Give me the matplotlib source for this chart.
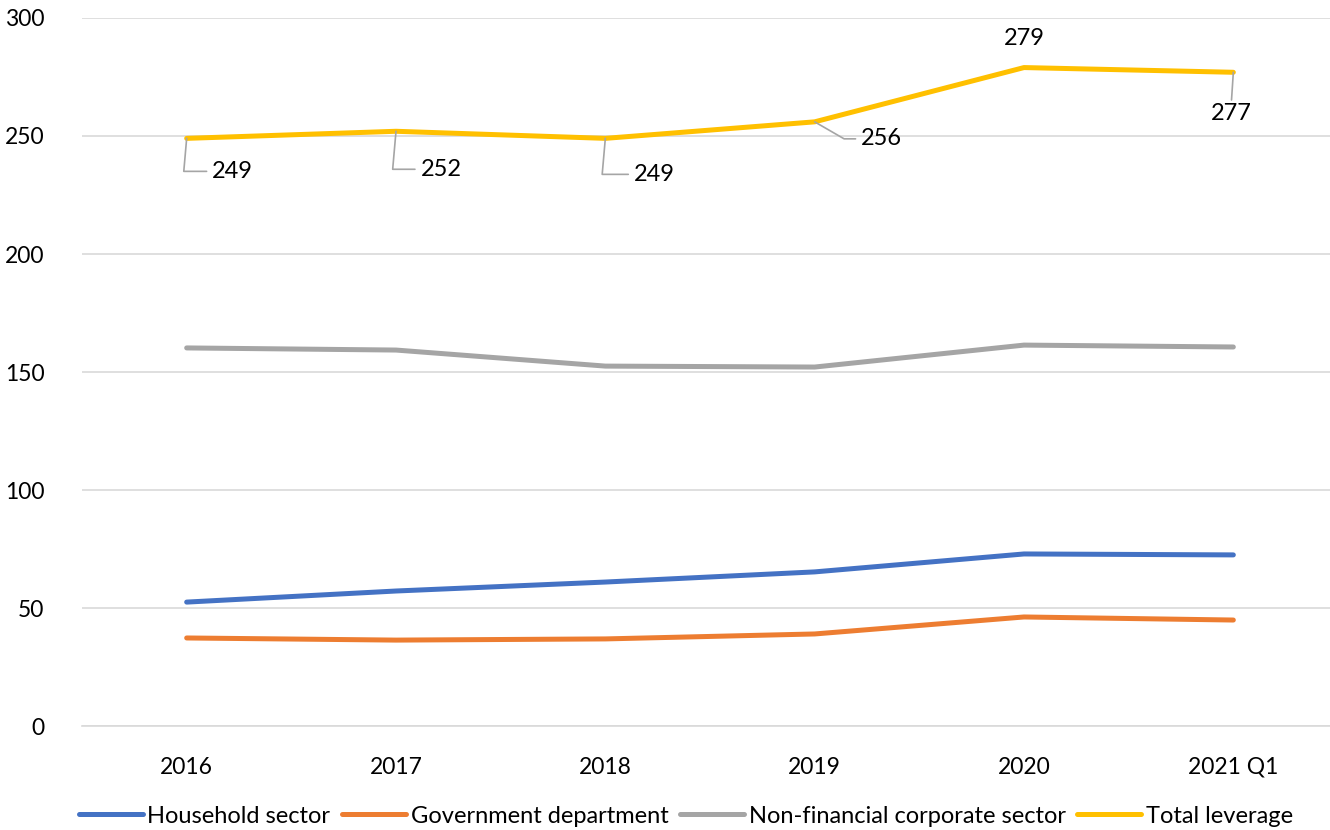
import matplotlib
matplotlib.use("Agg")
import matplotlib.pyplot as plt

plt.rcParams['font.family'] = ['Lato', 'DejaVu Sans']

years = ["2016", "2017", "2018", "2019", "2020", "2021 Q1"]
household = [52.5, 57.2, 61.0, 65.3, 72.9, 72.5]
government = [37.3, 36.4, 36.9, 39.0, 46.2, 44.9]
non_financial = [160.2, 159.3, 152.5, 152.1, 161.4, 160.6]
total = [249, 252, 249, 256, 279, 277]

fig = plt.figure(figsize=(13.3, 8.3), dpi=100)
ax = fig.add_axes([82 / 1330, 1 - 726 / 830, 1256 / 1330, 708 / 830])

x = range(len(years))
ax.plot(x, household, color="#4472C4", lw=3.6, solid_capstyle="round", label="Household sector")
ax.plot(x, government, color="#ED7D31", lw=3.6, solid_capstyle="round", label="Government department")
ax.plot(x, non_financial, color="#A5A5A5", lw=3.6, solid_capstyle="round", label="Non-financial corporate sector")
ax.plot(x, total, color="#FFC000", lw=3.6, solid_capstyle="round", label="Total leverage")

# data labels on total leverage, offsets in pixels with leader lines
offsets = [(46, -33), (45, -38), (49, -36), (67, -17), (0, 29), (-2, -41)]
for i, (v, (dx, dy)) in enumerate(zip(total, offsets)):
    off = (dx * 0.72, dy * 0.72)
    if i == 4:
        ax.annotate(f"{v:.0f}", (i, v), xytext=off, textcoords="offset points",
                    ha="center", va="center", fontsize=17)
    elif i == 5:
        ax.annotate(f"{v:.0f}", (i, v), xytext=off, textcoords="offset points",
                    ha="center", va="center", fontsize=17,
                    arrowprops=dict(arrowstyle="-", color="#A5A5A5", lw=1.2,
                                    shrinkA=0, shrinkB=0, relpos=(0.5, 1)))
    else:
        angle_b = -30 if i == 3 else 85
        ax.annotate(f"{v:.0f}", (i, v), xytext=off, textcoords="offset points",
                    ha="center", va="center", fontsize=17,
                    arrowprops=dict(arrowstyle="-", color="#A5A5A5", lw=1.2,
                                    shrinkA=2, shrinkB=0, relpos=(0, 0.5),
                                    connectionstyle=f"angle,angleA=0,angleB={angle_b},rad=0"))

ax.set_xlim(-0.5, len(years) - 0.5)
ax.set_ylim(0, 300)
ax.set_yticks(range(0, 301, 50))
ax.set_xticks(list(x))
ax.set_xticklabels(years)
ax.tick_params(axis="both", length=0, labelsize=16.5, colors="black")
ax.tick_params(axis="y", pad=27)
ax.tick_params(axis="x", pad=22)
ax.grid(axis="y", color="#D9D9D9", lw=1.2)
ax.set_axisbelow(True)
for side in ["top", "right", "left"]:
    ax.spines[side].set_visible(False)
ax.spines["bottom"].set_color("#D9D9D9")
ax.spines["bottom"].set_linewidth(1.2)

fig.legend(loc="center", bbox_to_anchor=(686 / 1330, 1 - 816 / 830), ncol=4,
           frameon=False, fontsize=17, handlelength=2.7, handletextpad=0.2,
           columnspacing=0.5)

fig.savefig("out.png", dpi=100)
